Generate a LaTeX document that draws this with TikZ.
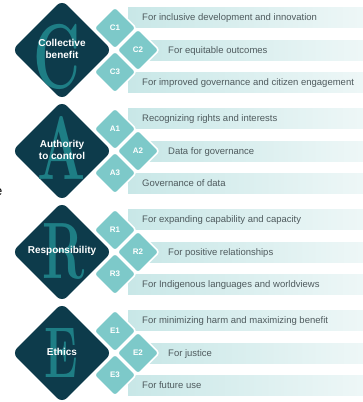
\documentclass[tikz,border=0pt]{standalone}
\usepackage{fontspec}
\usetikzlibrary{shapes.geometric}
\newfontfamily\labfont{Liberation Sans}
\definecolor{darkc}{HTML}{0D3B4B}
\definecolor{lettc}{HTML}{1E7E85}
\definecolor{smallc}{HTML}{7DC9C9}
\definecolor{barL}{HTML}{C8E7E7}
\definecolor{barR}{HTML}{EEF7F7}
\definecolor{txtc}{HTML}{4F5B5E}
\tikzset{
 bigdia/.style={diamond, fill=darkc, minimum width=100pt, minimum height=100pt, inner sep=0pt, rounded corners=7pt},
 smalldia/.style={diamond, fill=smallc, draw=white, line width=1.6pt, minimum width=43pt, minimum height=43pt, inner sep=0pt, rounded corners=3pt, text=white, font=\labfont\bfseries\fontsize{8}{8}\selectfont},
 barbox/.style={rectangle, left color=barL, right color=barR, minimum height=20pt, inner sep=0pt, anchor=west},
 bartext/.style={anchor=base west, inner sep=0pt, text=txtc, font=\labfont\fontsize{9.5}{9.5}\selectfont},
 biglet/.style={inner sep=0pt, text=lettc},
 biglab/.style={inner sep=0pt, text=white, align=center, font=\labfont\bfseries\fontsize{10}{11.5}\selectfont},
}
\newcommand\pillar[9]{%
 % #1 centre y, #2 letter, #3 label, #4-#6 texts, #7 #8 letter position, #9 letter size
 \node[barbox, minimum width=236pt] (#2bar1) at (128,#1-33) {};
 \node[barbox, minimum width=224pt] (#2bar2) at (140,#1) {};
 \node[barbox, minimum width=236pt] (#2bar3) at (128,#1+32) {};
 \node[smalldia] (#21) at (115,#1-22) {#21};
 \node[smalldia] (#22) at (138,#1) {#22};
 \node[smalldia] (#23) at (115,#1+22) {#23};
 \node[bigdia] (#2big) at (62,#1) {};
 \node[biglet, font=\bfseries\fontsize{#9}{#9}\selectfont] (#2let) at (#7,#8) {\scalebox{0.63}[1]{#2}};
 \node[biglab] (#2lab) at (62,#1-1) {#3};
 \node[bartext] (#2t1) at (142,#1-33+3.4) {#4};
 \node[bartext] (#2t2) at (168,#1+3.4) {#5};
 \node[bartext] (#2t3) at (142,#1+32+3.4) {#6};
}
\begin{document}
\begin{tikzpicture}[x=1pt,y=-1pt]
\useasboundingbox (0,0) rectangle (363,402);
\pillar{50}{C}{Collective\\benefit}{For inclusive development and innovation}{For equitable outcomes}{For improved governance and citizen engagement}{57}{57}{92}
\pillar{151}{A}{Authority\\to control}{Recognizing rights and interests}{Data for governance}{Governance of data}{62}{148}{90}
\pillar{252}{R}{Responsibility}{For expanding capability and capacity}{For positive relationships}{For Indigenous languages and worldviews}{64}{252}{80}
\pillar{353}{E}{Ethics}{For minimizing harm and maximizing benefit}{For justice}{For future use}{61}{352.5}{72}
\node[anchor=base east, inner sep=0pt, font=\labfont\fontsize{13}{13}\selectfont] (frag) at (2.5,195) {e};
\end{tikzpicture}
\end{document}
